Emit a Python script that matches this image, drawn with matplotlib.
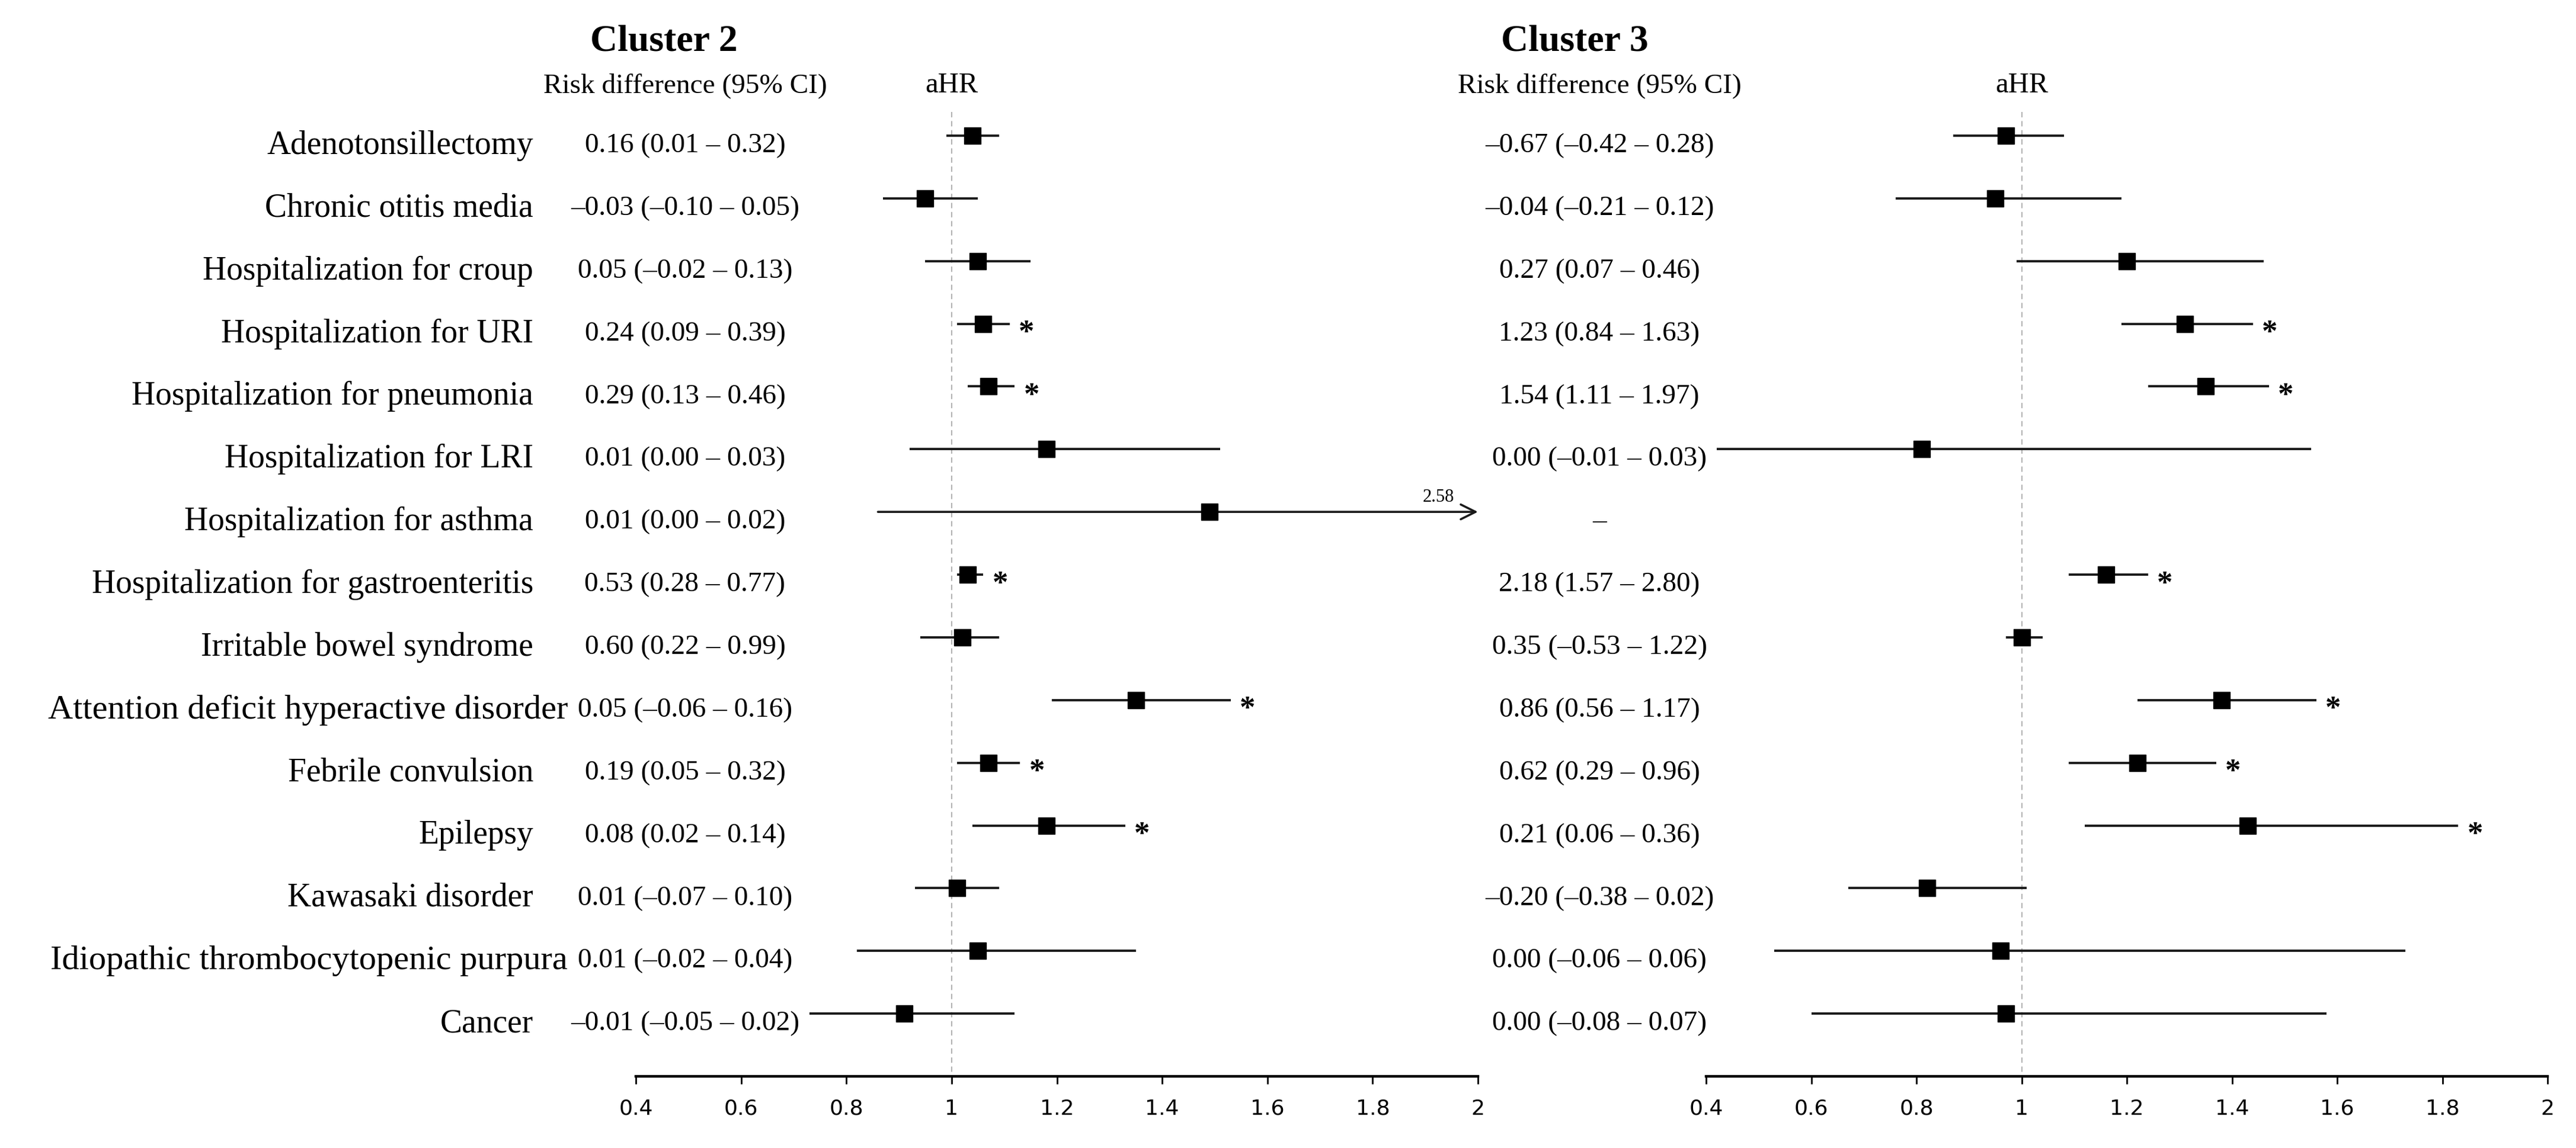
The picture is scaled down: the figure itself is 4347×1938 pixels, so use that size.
import matplotlib.pyplot as plt
import matplotlib.transforms as mtransforms
from matplotlib.ticker import FuncFormatter
import numpy as np

plt.rcParams['font.family'] = ['Liberation Serif', 'DejaVu Serif']

# Исходы (строки сверху вниз)
outcomes = [
    'Adenotonsillectomy',
    'Chronic otitis media',
    'Hospitalization for croup',
    'Hospitalization for URI',
    'Hospitalization for pneumonia',
    'Hospitalization for LRI',
    'Hospitalization for asthma',
    'Hospitalization for gastroenteritis',
    'Irritable bowel syndrome',
    'Attention deficit hyperactive disorder',
    'Febrile convulsion',
    'Epilepsy',
    'Kawasaki disorder',
    'Idiopathic thrombocytopenic purpura',
    'Cancer',
]
# В оригинале эти две подписи шире остальных и заходят правее
wide_labels = ['Attention deficit hyperactive disorder',
               'Idiopathic thrombocytopenic purpura']

# Cluster 2
c2_rd = ['0.16 (0.01 – 0.32)', '–0.03 (–0.10 – 0.05)', '0.05 (–0.02 – 0.13)',
         '0.24 (0.09 – 0.39)', '0.29 (0.13 – 0.46)', '0.01 (0.00 – 0.03)',
         '0.01 (0.00 – 0.02)', '0.53 (0.28 – 0.77)', '0.60 (0.22 – 0.99)',
         '0.05 (–0.06 – 0.16)', '0.19 (0.05 – 0.32)', '0.08 (0.02 – 0.14)',
         '0.01 (–0.07 – 0.10)', '0.01 (–0.02 – 0.04)', '–0.01 (–0.05 – 0.02)']
c2_hr = [1.04, 0.95, 1.05, 1.06, 1.07, 1.18, 1.49, 1.03, 1.02, 1.35, 1.07, 1.18, 1.01, 1.05, 0.91]
c2_lo = [0.99, 0.87, 0.95, 1.01, 1.03, 0.92, 0.86, 1.01, 0.94, 1.19, 1.01, 1.04, 0.93, 0.82, 0.73]
c2_hi = [1.09, 1.05, 1.15, 1.11, 1.12, 1.51, 2.58, 1.06, 1.09, 1.53, 1.13, 1.33, 1.09, 1.35, 1.12]
c2_sig = [0, 0, 0, 1, 1, 0, 0, 1, 0, 1, 1, 1, 0, 0, 0]

# Cluster 3
c3_rd = ['–0.67 (–0.42 – 0.28)', '–0.04 (–0.21 – 0.12)', '0.27 (0.07 – 0.46)',
         '1.23 (0.84 – 1.63)', '1.54 (1.11 – 1.97)', '0.00 (–0.01 – 0.03)',
         '–', '2.18 (1.57 – 2.80)', '0.35 (–0.53 – 1.22)',
         '0.86 (0.56 – 1.17)', '0.62 (0.29 – 0.96)', '0.21 (0.06 – 0.36)',
         '–0.20 (–0.38 – 0.02)', '0.00 (–0.06 – 0.06)', '0.00 (–0.08 – 0.07)']
c3_hr = [0.97, 0.95, 1.20, 1.31, 1.35, 0.81, np.nan, 1.16, 1.00, 1.38, 1.22, 1.43, 0.82, 0.96, 0.97]
c3_lo = [0.87, 0.76, 0.99, 1.19, 1.24, 0.42, np.nan, 1.09, 0.97, 1.22, 1.09, 1.12, 0.67, 0.53, 0.60]
c3_hi = [1.08, 1.19, 1.46, 1.44, 1.47, 1.55, np.nan, 1.24, 1.04, 1.56, 1.37, 1.83, 1.01, 1.73, 1.58]
c3_sig = [0, 0, 0, 1, 1, 0, 0, 1, 0, 1, 1, 1, 0, 0, 0]

x_ticks = [0.4, 0.6, 0.8, 1.0, 1.2, 1.4, 1.6, 1.8, 2.0]
ref_value = 1.0

W, H = 4347, 1938
fig = plt.figure(figsize=(W / 100, H / 100), dpi=100)

rows = np.arange(1, len(outcomes) + 1)
ax_bottom = (H - 1817) / H
ax_height = (1817 - 123) / H

line_color = '#1a1a1a'
text_dy = 0.16  # текст чуть ниже маркеров


def draw_panel(ax, hr, lo, hi, sig, rd, title, rd_x, title_x):
    xmin, xmax = x_ticks[0], x_ticks[-1]
    ax.set_xlim(xmin, xmax)
    ax.set_ylim(16.0, 0.0)
    ax.patch.set_alpha(0)
    for side in ['left', 'right', 'top']:
        ax.spines[side].set_visible(False)
    ax.spines['bottom'].set_linewidth(3.2)
    ax.set_yticks([])
    ax.set_xticks(x_ticks)
    ax.xaxis.set_major_formatter(FuncFormatter(lambda v, p: f'{v:g}'))
    ax.tick_params(axis='x', length=9, width=2, pad=18, labelsize=26)
    for lab in ax.get_xticklabels():
        lab.set_fontfamily('DejaVu Sans')

    # Опорная линия aHR = 1
    ax.plot([ref_value, ref_value], [0.62, 16.0], color='#aaaaaa', lw=1.3,
            dashes=(5, 3.5), zorder=1)

    for y, h, l, u, s in zip(rows, hr, lo, hi, sig):
        if np.isnan(h):
            continue
        if u > xmax:
            ax.annotate('', xy=(xmax, y), xytext=(l, y),
                        arrowprops=dict(arrowstyle='->', lw=2.6, color=line_color,
                                        mutation_scale=45, shrinkA=0, shrinkB=0),
                        annotation_clip=False)
            ax.text(xmax - 0.045, y - 0.1, f'{u:.2f}', ha='right', va='bottom',
                    fontsize=22)
        else:
            ax.plot([l, u], [y, y], color=line_color, lw=2.8, solid_capstyle='butt',
                    zorder=2)
        ax.plot(h, y, 's', ms=20, color='black', zorder=3)
        if s:
            ax.annotate('*', xy=(u, y), xytext=(11, -12), textcoords='offset points',
                        ha='left', va='center', fontsize=38, fontweight='bold')

    trans = mtransforms.blended_transform_factory(fig.transFigure, ax.transData)
    for y, t in zip(rows, rd):
        ax.text(rd_x, y + text_dy, t, transform=trans, ha='center', va='center',
                fontsize=34)
    ax.text(rd_x, 0.2, 'Risk difference (95% CI)', transform=trans, ha='center',
            va='center', fontsize=34)
    ax.text(ref_value, 0.2, 'aHR', ha='center', va='center', fontsize=35)
    ax.text(title_x, -0.5, title, transform=trans, ha='center', va='center',
            fontsize=46, fontweight='bold')


ax2 = fig.add_axes([1073 / W, ax_bottom, (2494 - 1073) / W, ax_height])
ax3 = fig.add_axes([2879 / W, ax_bottom, (4299 - 2879) / W, ax_height])

draw_panel(ax2, c2_hr, c2_lo, c2_hi, c2_sig, c2_rd, 'Cluster 2', 1156 / W, 1120 / W)
draw_panel(ax3, c3_hr, c3_lo, c3_hi, c3_sig, c3_rd, 'Cluster 3', 2699 / W, 2657 / W)

# Названия исходов слева
trans_lab = mtransforms.blended_transform_factory(fig.transFigure, ax2.transData)
for y, name in zip(rows, outcomes):
    if name in wide_labels:
        ax2.text(958 / W, y + text_dy, name, transform=trans_lab, ha='right',
                 va='center', fontsize=42)
    else:
        ax2.text(900 / W, y + text_dy, name, transform=trans_lab, ha='right',
                 va='center', fontsize=40)

fig.savefig('out.png', dpi=100)
